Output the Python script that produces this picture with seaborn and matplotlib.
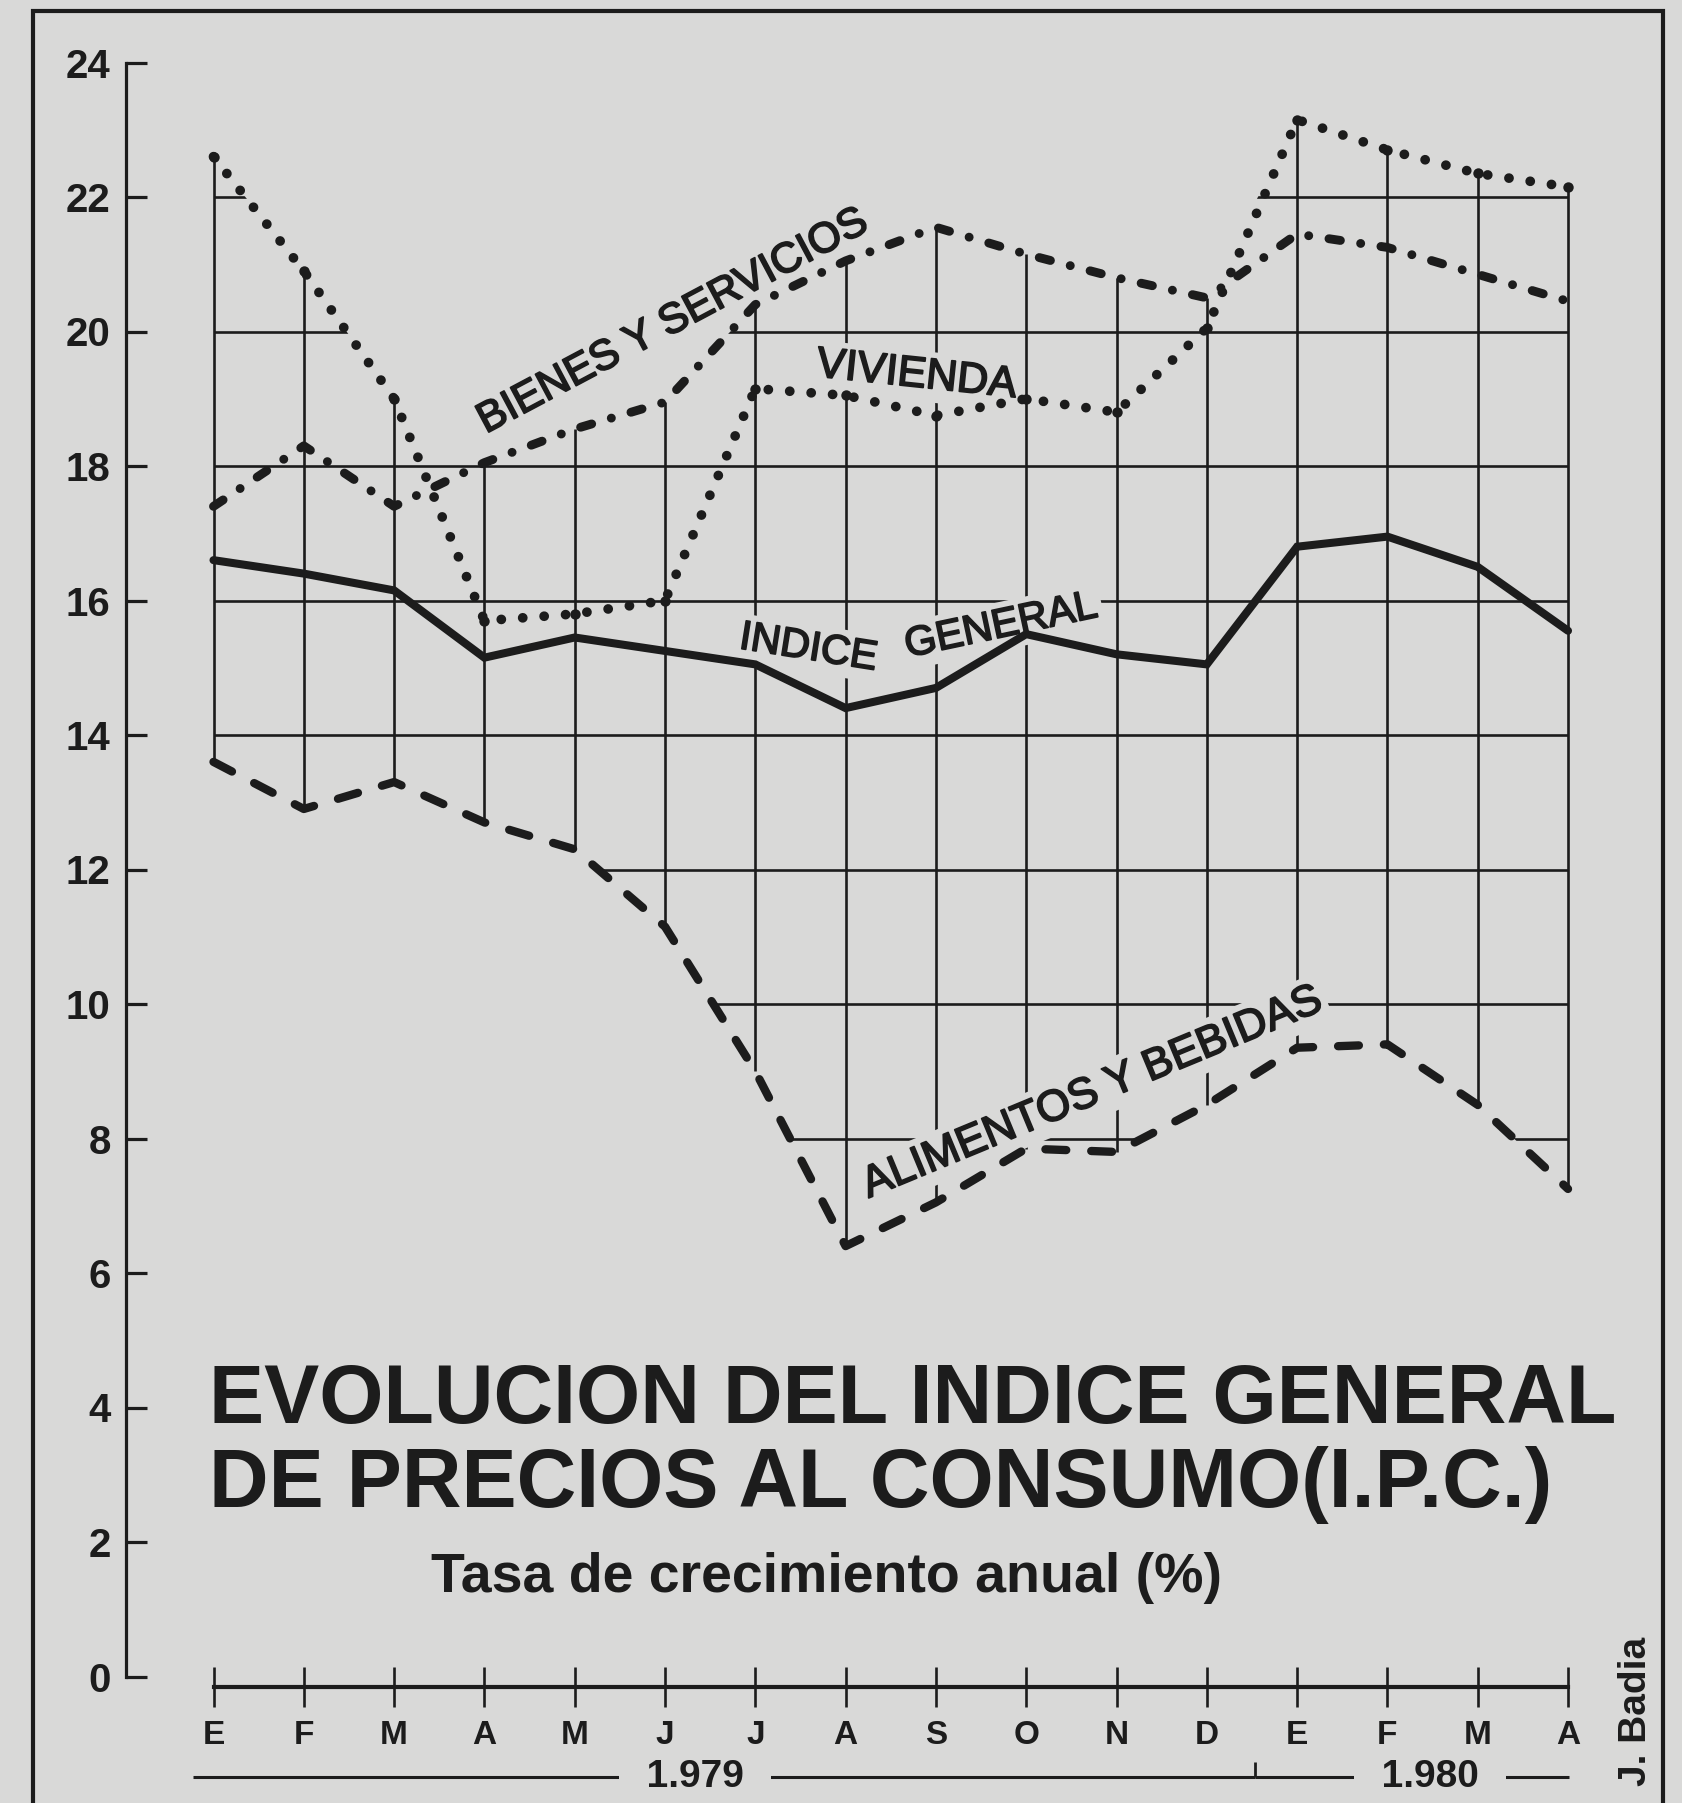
import numpy as np
import pandas as pd
import matplotlib
matplotlib.use("Agg")
import matplotlib.pyplot as plt
import matplotlib.patheffects as pe
import seaborn as sns
from matplotlib.patches import Rectangle

# ---------------- data ----------------
months = ["E", "F", "M", "A", "M", "J", "J", "A", "S", "O", "N", "D", "E", "F", "M", "A"]
indice_general = [16.6, 16.4, 16.15, 15.15, 15.45, 15.25, 15.05, 14.4, 14.7, 15.5, 15.2, 15.05, 16.8, 16.95, 16.5, 15.55]
vivienda = [22.6, 20.9, 19.0, 15.7, 15.8, 16.0, 19.15, 19.05, 18.75, 19.0, 18.8, 20.05, 23.15, 22.7, 22.35, 22.15]
bienes_servicios = [17.4, 18.3, 17.4, 18.05, 18.55, 18.95, 20.4, 21.05, 21.55, 21.15, 20.8, 20.5, 21.45, 21.25, 20.85, 20.45]
alimentos_bebidas = [13.6, 12.9, 13.3, 12.7, 12.3, 11.15, 9.0, 6.4, 7.05, 7.85, 7.8, 8.5, 9.35, 9.4, 8.5, 7.25]
y_ticks = list(range(0, 25, 2))
years = ["1.979", "1.980"]

PAPER = "#d9d9d8"
INK = "#1c1c1c"

sns.set_theme(style="white", rc={"axes.facecolor": PAPER, "figure.facecolor": PAPER})
plt.rcParams["font.family"] = ["Liberation Sans", "DejaVu Sans"]

x = np.arange(len(months))
df = pd.DataFrame({
    "x": x,
    "general": indice_general,
    "vivienda": vivienda,
    "bienes": bienes_servicios,
    "alimentos": alimentos_bebidas,
})

W, H = 1682, 1803
fig = plt.figure(figsize=(W / 100, H / 100), dpi=100)
fig.patch.set_facecolor(PAPER)
ax = fig.add_axes([126 / W, 126.5 / H, (1622.2 - 126) / W, (1740.5 - 126.5) / H])
ax.set_facecolor(PAPER)
ax.set_xlim(-0.969, 15.6)
ax.set_ylim(0, 24)

# ---------------- clipped grid ----------------
upper = np.maximum(df["vivienda"].values, df["bienes"].values)
lower = df["alimentos"].values
env = ax.fill_between(df["x"], lower, upper, facecolor="none", edgecolor="none", linewidth=0, zorder=0)
env_path = env.get_paths()[0]
grid_levels = [v for v in y_ticks if v > 0]
hl = ax.hlines(grid_levels, x[0], x[-1], color=INK, lw=1.9, zorder=1)
hl.set_clip_path(env_path, ax.transData)
ax.vlines(df["x"], lower, upper, color=INK, lw=1.9, zorder=1)

# ---------------- series ----------------
sns.lineplot(data=df, x="x", y="general", ax=ax, color=INK, lw=5.8,
             solid_joinstyle="miter", zorder=4)
sns.lineplot(data=df, x="x", y="vivienda", ax=ax, color=INK, lw=7.0,
             linestyle=(0, (0.01, 2.2)), dash_capstyle="round", zorder=4,
             marker="o", markersize=7.5, markeredgewidth=0)
sns.lineplot(data=df, x="x", y="bienes", ax=ax, color=INK, lw=6.4,
             linestyle=(0, (1.3, 2.3, 0.01, 2.3)), dash_capstyle="round", zorder=4)
sns.lineplot(data=df, x="x", y="alimentos", ax=ax, color=INK, lw=6.0,
             linestyle=(0, (2.5, 3.0)), dash_capstyle="round", zorder=4)

# ---------------- series labels ----------------
lab_kw = dict(color=INK, ha="center", va="baseline", zorder=2.5,
              rotation_mode="anchor",
              path_effects=[pe.withStroke(linewidth=1.3, foreground=INK)],
              bbox=dict(boxstyle="square,pad=0.12", fc=PAPER, ec="none"))
ax.text(5.144, 20.0, "BIENES Y SERVICIOS", rotation=28, fontsize=30.5, **lab_kw)
ax.text(7.77, 19.18, "VIVIENDA", rotation=-6, fontsize=31, **lab_kw)
ax.text(6.57, 15.13, "INDICE", rotation=-9, fontsize=29.5, **lab_kw)
ax.text(8.747, 15.46, "GENERAL", rotation=12, fontsize=29.5, **lab_kw)
ax.text(9.78, 8.52, "ALIMENTOS Y BEBIDAS", rotation=22.5, fontsize=31.5, **lab_kw)

# ---------------- axes ----------------
for s in ["top", "right"]:
    ax.spines[s].set_visible(False)
ax.spines["left"].set_bounds(0, 24)
ax.spines["left"].set_linewidth(2.3)
ax.spines["left"].set_color(INK)
ax.spines["bottom"].set_position(("data", -0.155))
ax.spines["bottom"].set_bounds(0, 15)
ax.spines["bottom"].set_linewidth(3.0)
ax.spines["bottom"].set_color(INK)

ax.set_yticks(y_ticks)
ax.set_yticklabels([str(v) for v in y_ticks], fontsize=29, fontweight="bold", color=INK)
ax.tick_params(axis="y", direction="in", length=15, width=2.3, color=INK, pad=11, left=True)
ax.set_xticks(x)
ax.set_xticklabels(months, fontsize=24, fontweight="bold", color=INK)
ax.tick_params(axis="x", direction="inout", length=29, width=1.9, color=INK, pad=9, bottom=True)
ax.set_xlabel("")
ax.set_ylabel("")

# year brackets
yy = -1.494
ax.hlines([yy, yy], [-0.23, 11.53], [11.53, 15.01], color=INK, lw=2.2, clip_on=False, zorder=0.5)
ax.vlines([11.53], yy, yy + 0.22, color=INK, lw=2.0, clip_on=False, zorder=0.5)
yr_kw = dict(color=INK, fontsize=28, fontweight="bold", ha="center", va="center", zorder=1,
             bbox=dict(boxstyle="square,pad=0.15", fc=PAPER, ec="none"), clip_on=False)
ax.text(5.33, yy, "  " + years[0] + "  ", **yr_kw)
ax.text(13.47, yy, "  " + years[1] + "  ", **yr_kw)

# ---------------- titles ----------------
fig.text(209 / W, 1 - 1423 / H, "EVOLUCION DEL INDICE GENERAL", fontsize=59.5,
         fontweight="bold", color=INK, ha="left", va="baseline")
fig.text(209 / W, 1 - 1507 / H, "DE PRECIOS AL CONSUMO(I.P.C.)", fontsize=59.5,
         fontweight="bold", color=INK, ha="left", va="baseline")
fig.text(431 / W, 1 - 1592 / H, "Tasa de crecimiento anual (%)", fontsize=40,
         fontweight="bold", color=INK, ha="left", va="baseline")
fig.text(1636 / W, 1 - 1711 / H, "J. Badia", fontsize=28, fontweight="bold",
         color=INK, rotation=90, ha="center", va="center")

# outer frame
fig.add_artist(Rectangle((33 / W, -0.05), (1663 - 33) / W, 1.05 - 11 / H,
                         transform=fig.transFigure, fill=False, ec=INK, lw=3))

fig.savefig("out.png", dpi=100, facecolor=PAPER)
